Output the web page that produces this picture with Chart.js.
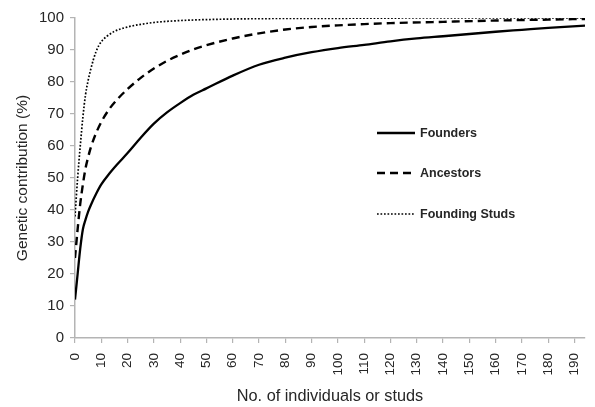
<!DOCTYPE html>
<html>
<head>
<meta charset="utf-8">
<script src="https://cdn.jsdelivr.net/npm/chart.js@4.4.1/dist/chart.umd.min.js"></script>
<style>
  html, body { margin: 0; padding: 0; background: #ffffff; }
  #wrap { width: 595px; height: 407px; }
</style>
</head>
<body>
<div id="wrap"><canvas id="c" width="595" height="407"></canvas></div>
<script>
// Cumulative genetic contribution (%) against the number of individuals or studs
const foundersX = [0, 1, 2, 3, 4, 5, 6, 8, 10, 13, 16, 20, 25, 30, 35, 40, 45, 50, 60, 70, 80, 90, 100, 110, 120, 130, 140, 150, 160, 170, 180, 194];
const foundersY = [12, 20, 28, 34, 37, 39.5, 41.5, 45, 48, 51.3, 54.2, 57.8, 62.6, 67, 70.5, 73.4, 76, 78, 82, 85.4, 87.6, 89.3, 90.6, 91.6, 92.7, 93.6, 94.3, 95, 95.7, 96.3, 96.9, 97.6];

const ancestorsX = [0, 1, 2, 3, 4, 5, 6, 8, 10, 13, 16, 20, 25, 30, 35, 40, 45, 50, 60, 70, 80, 90, 100, 110, 120, 140, 160, 180, 194];
const ancestorsY = [25, 34, 42, 48, 53, 56.5, 59.5, 64, 67.5, 71.5, 74.5, 77.8, 81.3, 84.2, 86.6, 88.5, 90.2, 91.5, 93.6, 95.2, 96.4, 97.2, 97.7, 98.1, 98.4, 98.8, 99.2, 99.5, 99.7];

const studsX = [0, 1, 2, 3, 4, 5, 6, 7, 8, 9, 10, 12, 15, 20, 25, 30, 40, 50, 70, 100, 130, 194];
const studsY = [38, 50, 60, 69, 76, 80.5, 84, 87, 89.5, 91.3, 92.6, 94.2, 95.8, 97.2, 98, 98.6, 99.2, 99.5, 99.8, 99.9, 100, 100];

const seriesNames = ['Founders', 'Ancestors', 'Founding Studs'];
const xTicks = [0, 10, 20, 30, 40, 50, 60, 70, 80, 90, 100, 110, 120, 130, 140, 150, 160, 170, 180, 190];
const yTicks = [0, 10, 20, 30, 40, 50, 60, 70, 80, 90, 100];

const pts = (xs, ys) => xs.map((x, i) => ({ x: x, y: ys[i] }));

const FONT = '"Liberation Sans", Arial, sans-serif';
const TEXT = '#262626';
const AXIS = '#b4b4b4';

// Legend drawn inside the plot, one row per series, using each dataset's own stroke style
const innerLegend = {
  id: 'innerLegend',
  afterDraw(chart) {
    const ctx = chart.ctx;
    const x0 = 377, x1 = 415, tx = 420;
    const rows = [133, 173, 214];
    chart.data.datasets.forEach((ds, i) => {
      const y = rows[i];
      ctx.save();
      ctx.strokeStyle = ds.borderColor;
      ctx.lineWidth = ds.borderWidth;
      ctx.setLineDash(ds.borderDash || []);
      ctx.beginPath();
      ctx.moveTo(x0, y);
      ctx.lineTo(x1, y);
      ctx.stroke();
      ctx.setLineDash([]);
      ctx.fillStyle = TEXT;
      ctx.font = 'bold 12.5px ' + FONT;
      ctx.textBaseline = 'middle';
      ctx.textAlign = 'left';
      ctx.fillText(ds.label, tx, y + 0.5);
      ctx.restore();
    });
  }
};

new Chart(document.getElementById('c'), {
  type: 'line',
  data: {
    datasets: [
      { label: seriesNames[0], data: pts(foundersX, foundersY), borderColor: '#000000', borderWidth: 2.3, borderDash: [], pointRadius: 0, cubicInterpolationMode: 'monotone', fill: false },
      { label: seriesNames[1], data: pts(ancestorsX, ancestorsY), borderColor: '#000000', borderWidth: 2.4, borderDash: [8, 5], pointRadius: 0, cubicInterpolationMode: 'monotone', fill: false },
      { label: seriesNames[2], data: pts(studsX, studsY), borderColor: '#000000', borderWidth: 1.7, borderDash: [1.7, 1.8], pointRadius: 0, cubicInterpolationMode: 'monotone', fill: false }
    ]
  },
  options: {
    responsive: false,
    animation: false,
    layout: { padding: { left: 9, right: 10, top: 18, bottom: 0 } },
    plugins: { legend: { display: false }, tooltip: { enabled: false } },
    scales: {
      x: {
        type: 'linear',
        min: 0,
        max: 194,
        afterBuildTicks: (s) => { s.ticks = xTicks.map(v => ({ value: v })); },
        afterFit: (s) => { s.height = 69; s.paddingRight = 0; s.paddingLeft = 0; },
        border: { color: AXIS, width: 1.5 },
        grid: { display: true, drawOnChartArea: false, drawTicks: true, tickLength: 5, color: AXIS, lineWidth: 1.2 },
        ticks: { minRotation: 90, maxRotation: 90, autoSkip: false, padding: 10, color: TEXT, font: { family: FONT, size: 13.5 } },
        title: { display: true, text: 'No. of individuals or studs', color: TEXT, font: { family: FONT, size: 16.3 }, padding: { top: 0, bottom: 1 } }
      },
      y: {
        min: 0,
        max: 100,
        afterBuildTicks: (s) => { s.ticks = yTicks.map(v => ({ value: v })); },
        afterFit: (s) => { s.width = 66; s.paddingTop = 0; s.paddingBottom = 0; },
        border: { color: AXIS, width: 1.5 },
        grid: { display: true, drawOnChartArea: false, drawTicks: true, tickLength: 5, color: AXIS, lineWidth: 1.2 },
        ticks: { padding: 6, color: TEXT, font: { family: FONT, size: 15 } },
        title: { display: true, text: 'Genetic contribution (%)', color: TEXT, font: { family: FONT, size: 15.5 }, padding: { top: 4, bottom: 0 } }
      }
    }
  },
  plugins: [innerLegend]
});
</script>
</body>
</html>
